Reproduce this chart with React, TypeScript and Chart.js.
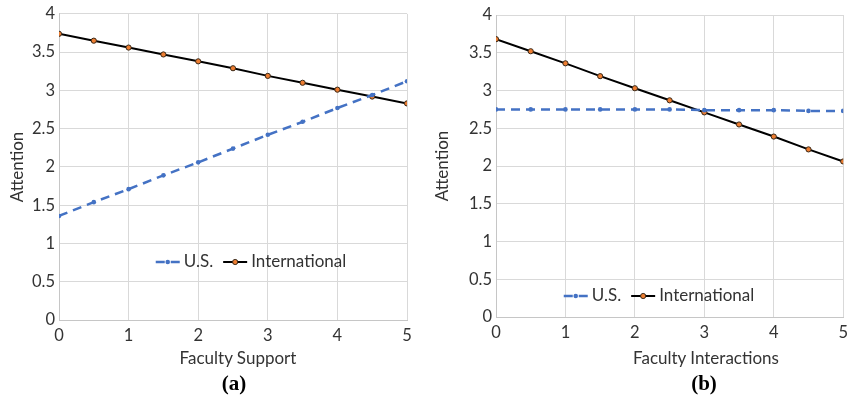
import React, { useEffect, useRef } from "react";
import { Chart, registerables } from "chart.js";

Chart.register(...registerables);

// ---- data ----
const X_VALUES = [0, 0.5, 1, 1.5, 2, 2.5, 3, 3.5, 4, 4.5, 5];
const SUPPORT_US = [1.36, 1.54, 1.71, 1.89, 2.06, 2.24, 2.42, 2.59, 2.77, 2.94, 3.12];
const SUPPORT_INTL = [3.74, 3.65, 3.56, 3.47, 3.38, 3.29, 3.19, 3.1, 3.01, 2.92, 2.83];
const INTERACT_US = [2.75, 2.75, 2.75, 2.75, 2.75, 2.75, 2.74, 2.74, 2.74, 2.73, 2.73];
const INTERACT_INTL = [3.68, 3.52, 3.36, 3.19, 3.03, 2.87, 2.71, 2.55, 2.39, 2.22, 2.06];
const SERIES_LABELS = ["U.S.", "International"];
const Y_TITLE = "Attention";
const X_TITLES = ["Faculty Support", "Faculty Interactions"];
const PANEL_LABELS = ["(a)", "(b)"];
const Y_MIN = 0;
const Y_MAX = 4;
const Y_STEP = 0.5;
const X_MIN = 0;
const X_MAX = 5;
const X_STEP = 1;

// ---- styles ----
const FONT = "Lato, 'Open Sans', sans-serif";
const TEXT = "#333333";
const GRID = "#d9d9d9";
const AXIS = "#c6c6c6";
const US_COLOR = "#4472C4";
const INTL_LINE = "#000000";
const INTL_POINT = "#ED7D31";

const inlineLegend = {
  id: "inlineLegend",
  afterDraw(chart: any, _args: any, opts: any) {
    const ctx = chart.ctx;
    ctx.save();
    ctx.font = `${opts.fontSize}px ${FONT}`;
    const sampleW = 24;
    const gapText = 4;
    const gapItem = 10;
    const items = chart.data.datasets.map((ds: any) => ({ ds, w: ctx.measureText(ds.label).width }));
    const total =
      items.reduce((s: number, it: any) => s + sampleW + gapText + it.w, 0) + gapItem * (items.length - 1);
    let x = opts.centerX - total / 2;
    const y = opts.centerY;
    items.forEach(({ ds, w }: any) => {
      ctx.strokeStyle = ds.borderColor;
      ctx.lineWidth = ds.borderWidth;
      ctx.setLineDash(ds.borderDash || []);
      ctx.beginPath();
      ctx.moveTo(x, y);
      ctx.lineTo(x + sampleW, y);
      ctx.stroke();
      ctx.setLineDash([]);
      ctx.beginPath();
      ctx.arc(x + sampleW / 2, y, ds.pointRadius, 0, Math.PI * 2);
      ctx.fillStyle = ds.pointBackgroundColor;
      ctx.fill();
      if (ds.pointBorderWidth) {
        ctx.lineWidth = ds.pointBorderWidth;
        ctx.strokeStyle = ds.pointBorderColor;
        ctx.stroke();
      }
      ctx.fillStyle = TEXT;
      ctx.textBaseline = "middle";
      ctx.textAlign = "left";
      ctx.fillText(ds.label, x + sampleW + gapText, y);
      x += sampleW + gapText + w + gapItem;
    });
    ctx.restore();
  },
};

type PanelProps = {
  us: number[];
  intl: number[];
  width: number;
  height: number;
  yWidth: number;
  padTop: number;
  padRight: number;
  padBottom: number;
  legendX: number;
  legendY: number;
};

function Panel(p: PanelProps) {
  const ref = useRef<HTMLCanvasElement | null>(null);
  useEffect(() => {
    if (!ref.current) return;
    const chart = new Chart(ref.current, {
      type: "line",
      data: {
        datasets: [
          {
            label: SERIES_LABELS[0],
            data: X_VALUES.map((x, i) => ({ x, y: p.us[i] })),
            borderColor: US_COLOR,
            backgroundColor: US_COLOR,
            borderWidth: 2.5,
            borderDash: [9, 6],
            pointRadius: 2.3,
            pointBackgroundColor: US_COLOR,
            pointBorderColor: US_COLOR,
            pointBorderWidth: 0,
            tension: 0,
          },
          {
            label: SERIES_LABELS[1],
            data: X_VALUES.map((x, i) => ({ x, y: p.intl[i] })),
            borderColor: INTL_LINE,
            backgroundColor: INTL_POINT,
            borderWidth: 2,
            pointRadius: 2.6,
            pointBackgroundColor: INTL_POINT,
            pointBorderColor: "#3a2a1a",
            pointBorderWidth: 1,
            tension: 0,
          },
        ],
      } as any,
      options: {
        animation: false,
        responsive: false,
        maintainAspectRatio: false,
        layout: { padding: { left: 0, top: p.padTop, right: p.padRight, bottom: p.padBottom } },
        font: { family: FONT },
        plugins: {
          legend: { display: false },
          tooltip: { enabled: false },
          inlineLegend: { centerX: p.legendX, centerY: p.legendY, fontSize: 17 },
        } as any,
        scales: {
          x: {
            type: "linear",
            min: X_MIN,
            max: X_MAX,
            ticks: {
              stepSize: X_STEP,
              padding: 6,
              color: TEXT,
              font: { size: 16.5, family: FONT },
              callback: (v: any) => String(v),
            },
            grid: { color: GRID, drawTicks: false },
            border: { color: AXIS, width: 1 },
            afterFit: (s: any) => {
              s.height = 28;
            },
          },
          y: {
            min: Y_MIN,
            max: Y_MAX,
            ticks: {
              stepSize: Y_STEP,
              padding: 4,
              color: TEXT,
              font: { size: 16.5, family: FONT },
              callback: (v: any) => String(v),
            },
            grid: { color: GRID, drawTicks: false },
            border: { color: AXIS, width: 1 },
            title: {
              display: true,
              text: Y_TITLE,
              color: TEXT,
              font: { size: 17, family: FONT },
              padding: { top: 7, bottom: 0 },
            },
            afterFit: (s: any) => {
              s.width = p.yWidth;
            },
          },
        } as any,
      },
      plugins: [inlineLegend as any],
    });
    return () => chart.destroy();
  }, []);
  return <canvas ref={ref} width={p.width} height={p.height} style={{ display: "block" }} />;
}

const abs = (left: number, top: number): React.CSSProperties => ({ position: "absolute", left, top });

export default function App() {
  const xTitleStyle: React.CSSProperties = {
    position: "absolute",
    fontFamily: FONT,
    fontSize: 17,
    color: TEXT,
    lineHeight: 1,
    transform: "translate(-50%, -50%)",
    whiteSpace: "nowrap",
  };
  const capStyle: React.CSSProperties = {
    position: "absolute",
    fontFamily: "'Liberation Serif', 'Times New Roman', serif",
    fontWeight: "bold",
    fontSize: 21,
    lineHeight: 1,
    color: "#000",
    transform: "translate(-50%, -50%)",
    whiteSpace: "nowrap",
  };
  return (
    <div style={{ position: "absolute", left: 0, top: 0, width: 854, height: 399, background: "#fff", overflow: "hidden" }}>
      <div style={abs(0, 0)}>
        <Panel
          us={SUPPORT_US}
          intl={SUPPORT_INTL}
          width={425}
          height={399}
          yWidth={59}
          padTop={13}
          padRight={18}
          padBottom={51}
          legendX={251}
          legendY={262}
        />
      </div>
      <div style={abs(425, 0)}>
        <Panel
          us={INTERACT_US}
          intl={INTERACT_INTL}
          width={429}
          height={399}
          yWidth={71}
          padTop={15}
          padRight={7}
          padBottom={54}
          legendX={234}
          legendY={296}
        />
      </div>
      <div style={{ ...xTitleStyle, left: 238, top: 357 }}>{X_TITLES[0]}</div>
      <div style={{ ...xTitleStyle, left: 706, top: 357 }}>{X_TITLES[1]}</div>
      <div style={{ ...capStyle, left: 234, top: 383 }}>{PANEL_LABELS[0]}</div>
      <div style={{ ...capStyle, left: 704, top: 383 }}>{PANEL_LABELS[1]}</div>
    </div>
  );
}
